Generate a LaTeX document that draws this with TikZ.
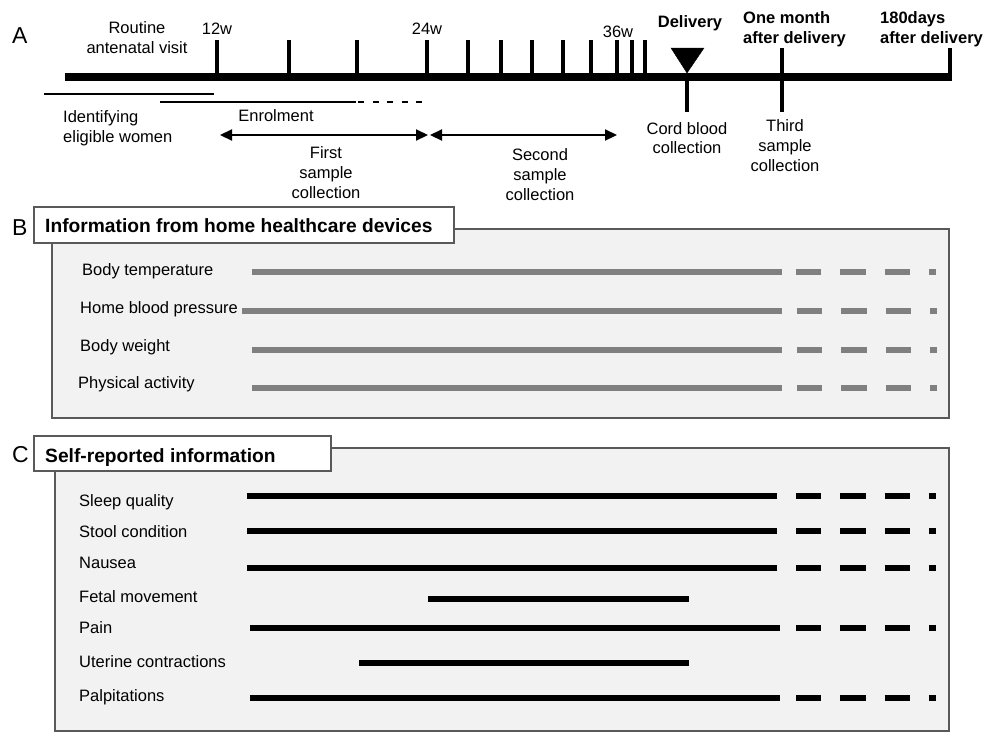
\documentclass[tikz,border=0pt]{standalone}
\usepackage{fontspec}
\setmainfont{Liberation Sans}
\usetikzlibrary{arrows.meta}
\definecolor{panelfill}{HTML}{F2F2F2}
\definecolor{panelborder}{HTML}{595959}
\definecolor{bargray}{HTML}{808080}
\begin{document}
\begin{tikzpicture}[x=1pt,y=-1pt,
  txt/.style={font=\fontsize{16.5}{20}\selectfont, inner sep=0pt, align=center},
  btxt/.style={font=\bfseries\fontsize{16.5}{20}\selectfont, inner sep=0pt, align=center},
  ttl/.style={font=\bfseries\fontsize{19.2}{22}\selectfont, inner sep=0pt, anchor=base west},
  letter/.style={font=\fontsize{23}{26}\selectfont, inner sep=0pt, anchor=base west},
  rowlbl/.style={font=\fontsize{16.5}{20}\selectfont, inner sep=0pt, anchor=base west},
  axisline/.style={line width=8pt},
  tickline/.style={line width=3.5pt},
  thinline/.style={line width=1.5pt},
  dblarrow/.style={line width=2.2pt, {Triangle[length=12pt,width=11pt]}-{Triangle[length=12pt,width=11pt]}},
  panel/.style={fill=panelfill, draw=panelborder, line width=1.5pt},
  titlebox/.style={fill=white, draw=panelborder, line width=1.2pt},
  graybar/.style={line width=6pt, draw=bargray},
  blackbar/.style={line width=6pt, draw=black},
  dashpart/.style={dash pattern=on 25.3pt off 19pt},
]
\useasboundingbox (0,0) rectangle (989,740);

% ---------------- Panel A ----------------
\node[letter] (lA) at (12,43) {A};
\draw[axisline] (65,77) -- (952,77);
\foreach \x in {217,289,357,427,468,501,532,563,591,617,632,645}
  \draw[tickline] (\x,40) -- (\x,77);
\draw[tickline] (950,48) -- (950,81);
\draw[fill=black] (671,48) -- (704,48) -- (687,73) -- cycle;
\draw[tickline] (687,77) -- (687,112);
\draw[tickline] (782,48) -- (782,112);

% multi-line nodes: base anchor = baseline of last line
\node[txt, anchor=base] (routine) at (137,53) {Routine\\antenatal visit};
\node[txt, anchor=base] (w12) at (217,34) {12w};
\node[txt, anchor=base] (w24) at (427,34) {24w};
\node[txt, anchor=base] (w36) at (618,37) {36w};
\node[btxt, anchor=base] (deliv) at (690,27) {Delivery};
\node[btxt, anchor=base west, align=left] (onemonth) at (743,43) {One month\\after delivery};
\node[btxt, anchor=base west, align=left] (d180) at (880,43) {180days\\after delivery};

\draw[thinline] (44,94) -- (214,94);
\draw[thinline] (160,102) -- (356,102);
\draw[thinline, dash pattern=on 6pt off 8.5pt] (358,102) -- (423,102);
\node[txt, anchor=base west, align=left] (ident) at (63,142) {Identifying\\eligible women};
\node[txt, anchor=base] (enrol) at (276,121) {Enrolment};

\coordinate (a1l) at (220,135);
\coordinate (a1r) at (428,135);
\coordinate (a2l) at (430,135);
\coordinate (a2r) at (617,135);
\draw[dblarrow] (a1l) -- (a1r);
\draw[dblarrow] (a2l) -- (a2r);

\node[txt, anchor=base] (first) at (326,198) {First\\sample\\collection};
\node[txt, anchor=base] (second) at (540,200) {Second\\sample\\collection};
\node[txt, font=\fontsize{16.5}{18.5}\selectfont, anchor=base] (cord) at (687,153) {Cord blood\\collection};
\node[txt, anchor=base] (third) at (785,171) {Third\\sample\\collection};

% ---------------- Panel B ----------------
\draw[panel] (52,229) rectangle (949,418);
\draw[titlebox] (34,207) rectangle (454,243);
\node[letter] (lB) at (12,235) {B};
\node[ttl] (tB) at (45,232) {Information from home healthcare devices};

\node[rowlbl] (b1) at (82,275) {Body temperature};
\node[rowlbl] (b2) at (80,313) {Home blood pressure};
\node[rowlbl] (b3) at (80,351) {Body weight};
\node[rowlbl] (b4) at (78,388) {Physical activity};

\draw[graybar] (252,272) -- (782,272);
\draw[graybar, dashpart] (796,272) -- (936,272);
\draw[graybar] (242,311) -- (782,311);
\draw[graybar, dashpart] (797,311) -- (937,311);
\draw[graybar] (252,350) -- (782,350);
\draw[graybar, dashpart] (797,350) -- (937,350);
\draw[graybar] (252,388) -- (782,388);
\draw[graybar, dashpart] (797,388) -- (937,388);

% ---------------- Panel C ----------------
\draw[panel] (55,448) rectangle (949,731);
\draw[titlebox] (34,436) rectangle (331,471);
\node[letter] (lC) at (12,462) {C};
\node[ttl] (tC) at (45,462) {Self-reported information};

\node[rowlbl] (c1) at (79,506) {Sleep quality};
\node[rowlbl] (c2) at (79,537) {Stool condition};
\node[rowlbl] (c3) at (79,568) {Nausea};
\node[rowlbl] (c4) at (79,602) {Fetal movement};
\node[rowlbl] (c5) at (79,633) {Pain};
\node[rowlbl] (c6) at (79,667) {Uterine contractions};
\node[rowlbl] (c7) at (79,701) {Palpitations};

\draw[blackbar] (247,496) -- (777,496);
\draw[blackbar, dashpart] (796,496) -- (936,496);
\draw[blackbar] (247,531) -- (777,531);
\draw[blackbar, dashpart] (796,531) -- (936,531);
\draw[blackbar] (247,568) -- (777,568);
\draw[blackbar, dashpart] (796,568) -- (936,568);
\draw[blackbar] (428,599) -- (689,599);
\draw[blackbar] (250,628) -- (780,628);
\draw[blackbar, dashpart] (796,628) -- (936,628);
\draw[blackbar] (359,663) -- (689,663);
\draw[blackbar] (250,698) -- (780,698);
\draw[blackbar, dashpart] (796,698) -- (936,698);
\end{tikzpicture}
\end{document}
